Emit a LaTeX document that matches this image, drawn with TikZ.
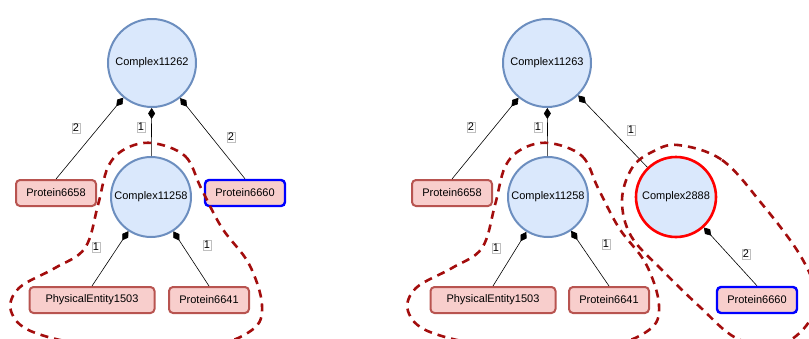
\documentclass[tikz,border=0pt]{standalone}
\usepackage{fontspec}
\setmainfont{Liberation Sans}
\usetikzlibrary{arrows.meta, positioning}

\definecolor{cplxfill}{HTML}{DAE8FC}
\definecolor{cplxdraw}{HTML}{6C8EBF}
\definecolor{protfill}{HTML}{F8CECC}
\definecolor{protdraw}{HTML}{B85450}
\definecolor{groupred}{HTML}{A30D0D}

\begin{document}
\begin{tikzpicture}[
    x=1pt, y=-1pt,
    complex/.style={
        circle,
        draw=cplxdraw,
        fill=cplxfill,
        line width=2pt,
        inner sep=0pt,
        minimum size=80pt,
        font=\fontsize{11}{13}\selectfont
    },
    bigcomplex/.style={complex, minimum size=88pt},
    protein/.style={
        rectangle,
        rounded corners=4pt,
        draw=protdraw,
        fill=protfill,
        line width=2pt,
        inner sep=2pt,
        minimum width=80pt,
        minimum height=26pt,
        font=\fontsize{11}{13}\selectfont
    },
    picked/.style={draw=blue, line width=2.4pt},
    chosen/.style={draw=red, line width=2.6pt},
    part/.style={-{Diamond[length=11pt,width=7pt]}, line width=0.6pt},
    mult/.style={draw=black!25, fill=white, inner sep=1pt, font=\fontsize{11}{12}\selectfont},
    group/.style={draw=groupred, line width=2.6pt, dash pattern=on 8pt off 6pt}
]
\useasboundingbox (0,0) rectangle (809,338);

% left graph
\node[bigcomplex] (c11262) at (152,63) {Complex11262};
\node[complex] (c11258) at (151,197) {Complex11258};
\node[protein] (p6658) at (56,193) {Protein6658};
\node[protein, picked] (p6660) at (245,193) {Protein6660};
\node[protein, minimum width=125pt] (pe1503) at (92,300) {PhysicalEntity1503};
\node[protein] (p6641) at (209,300) {Protein6641};

\draw[part] (p6658.north) -- (c11262);
\draw[part] (c11258) -- (c11262);
\draw[part] (p6660.north) -- (c11262);
\draw[part] (pe1503.north) -- (c11258);
\draw[part] (p6641.north) -- (c11258);

\node[mult] (m1) at (76,128) {2};
\node[mult] (m2) at (141,127) {1};
\node[mult] (m3) at (231,137) {2};
\node[mult] (m4) at (96,247) {1};
\node[mult] (m5) at (207,245) {1};

% right graph
\node[bigcomplex] (c11263) at (547,63) {Complex11263};
\node[complex] (c11258b) at (548,197) {Complex11258};
\node[protein] (p6658b) at (452,193) {Protein6658};
\node[complex, chosen] (c2888) at (676,197) {Complex2888};
\node[protein, minimum width=125pt] (pe1503b) at (493,300) {PhysicalEntity1503};
\node[protein] (p6641b) at (609,300) {Protein6641};
\node[protein, picked] (p6660b) at (757,300) {Protein6660};

\draw[part] (p6658b.north) -- (c11263);
\draw[part] (c11258b) -- (c11263);
\draw[part] (c2888) -- (c11263);
\draw[part] (pe1503b.north) -- (c11258b);
\draw[part] (p6641b.north) -- (c11258b);
\draw[part] (p6660b.north) -- (c2888);

\node[mult] (m6) at (471,127) {2};
\node[mult] (m7) at (538,127) {1};
\node[mult] (m8) at (631,130) {1};
\node[mult] (m9) at (496,248) {1};
\node[mult] (m10) at (606,244) {1};
\node[mult] (m11) at (746,254) {2};

% dashed groups
\begin{scope}
\clip (0,0) rectangle (809,338);
\foreach \dx in {0,397} {
    \draw[group, xshift=\dx pt] plot[smooth cycle, tension=0.6] coordinates {
        (152,143) (185,156) (201,188) (222,228) (249,264) (262,305)
        (252,330) (205,346) (100,346) (33,332) (11,311) (19,288)
        (55,268) (85,248) (98,205) (108,167) (125,149)};
}
\draw[group] plot[smooth cycle, tension=0.6] coordinates {
    (678,145) (722,160) (762,204) (800,255) (816,295) (806,326)
    (776,346) (736,338) (700,307) (662,270) (631,236) (622,200)
    (632,168) (652,152)};
\end{scope}

\end{tikzpicture}
\end{document}
